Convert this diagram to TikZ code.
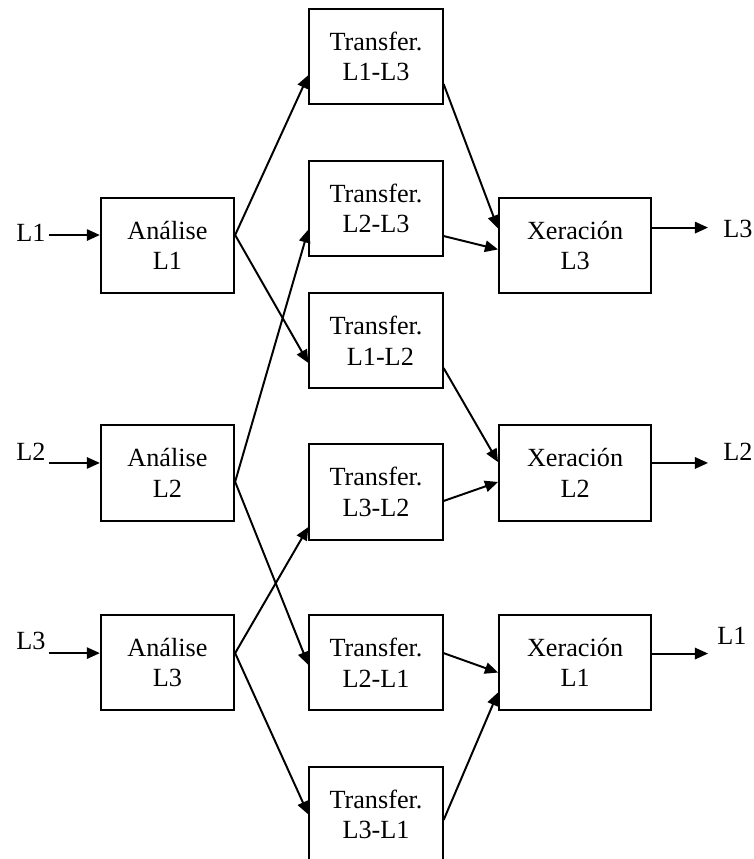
\documentclass[tikz,border=0pt]{standalone}
\usepackage{fontspec}
\setmainfont{Liberation Serif}
\usetikzlibrary{arrows.meta}

\begin{document}
\begin{tikzpicture}[x=0.4576pt,y=-0.4576pt,node distance=186.5pt,line width=0.9pt,
    >={Triangle[length=6pt,width=5.2pt]},font=\fontsize{12}{14}\selectfont,
    box/.style={draw,align=center,minimum width=61pt,minimum height=43.5pt,inner sep=1pt},
    xbox/.style={box,minimum width=69.6pt},
    lang/.style={inner sep=1pt}]
    \useasboundingbox (0,0) rectangle (754,859);

    \node[box]   (a1) at (167.5,245.5)      {Análise\\L1};
    \node[box]   (a2) at (167.5,473)        {Análise\\L2};
    \node[box]   (a3) at (167.5,662.5)      {Análise\\L3};
    \node[xbox]  (x3) [right of=a1]         {Xeración\\L3};
    \node[xbox]  (x2) [right of=a2]         {Xeración\\L2};
    \node[xbox]  (x1) [right of=a3]         {Xeración\\L1};

    \node[box]   (t13) at (376,56.5)        {Transfer.\\L1-L3};
    \node[box]   (t23) at (376,208.5)       {Transfer.\\L2-L3};
    \node[box]   (t12) at (376,340.5)       {Transfer.\\\hspace{4pt}L1-L2};
    \node[box]   (t32) at (376,492)         {Transfer.\\L3-L2};
    \node[box]   (t21) at (376,662.5)       {Transfer.\\L2-L1};
    \node[box]   (t31) at (376,814.5)       {Transfer.\\L3-L1};

    \node[lang]  (i1) at (31,233)           {L1};
    \node[lang]  (i2) at (31,452)           {L2};
    \node[lang]  (i3) at (31,641)           {L3};
    \node[lang]  (o3) at (738,229)          {L3};
    \node[lang]  (o2) at (738,452)          {L2};
    \node[lang]  (o1) at (732,636)          {L1};

    \coordinate (a1o) at ([yshift=4.8pt]a1.east);
    \coordinate (a2o) at ([yshift=-4pt]a2.east);
    \coordinate (a3o) at ([yshift=4.3pt]a3.east);
    \coordinate (a1i) at ([yshift=4.8pt]a1.west);
    \coordinate (a2i) at ([yshift=4.6pt]a2.west);
    \coordinate (a3i) at ([yshift=4.3pt]a3.west);
    \coordinate (e3) at ([yshift=8.2pt,xshift=25.6pt]x3.east);
    \coordinate (e2) at ([yshift=4.6pt,xshift=25.6pt]x2.east);
    \coordinate (e1) at ([yshift=4.1pt,xshift=25.6pt]x1.east);

    \path[->]   (i1.east |- a1i)        edge  (a1i)
                (i2.east |- a2i)        edge  (a2i)
                (i3.east |- a3i)        edge  (a3i)
                (a1o)                   edge  ([yshift=-8.5pt]t13.west)
                (a1o)                   edge  ([yshift=-10.3pt]t12.west)
                (a2o)                   edge  ([yshift=-9.6pt]t23.west)
                (a2o)                   edge  ([yshift=-1.1pt]t21.west)
                (a3o)                   edge  ([yshift=-16pt]t32.west)
                (a3o)                   edge  (t31.west)
                ([yshift=-12.6pt]t13.east) edge ([yshift=7.8pt]x3.west)
                ([yshift=-12.6pt]t23.east) edge ([yshift=-1.8pt]x3.west)
                ([yshift=-12.6pt]t12.east) edge ([yshift=5pt]x2.west)
                ([yshift=-4.1pt]t32.east)  edge ([yshift=-4.1pt]x2.west)
                ([yshift=4.3pt]t21.east)   edge ([yshift=-4.6pt]x1.west)
                ([yshift=-2.5pt]t31.east)  edge ([yshift=-13.7pt]x1.west)
                (x3.east |- e3)         edge  (e3)
                (x2.east |- e2)         edge  (e2)
                (x1.east |- e1)         edge  (e1)
                ;
\end{tikzpicture}
\end{document}
